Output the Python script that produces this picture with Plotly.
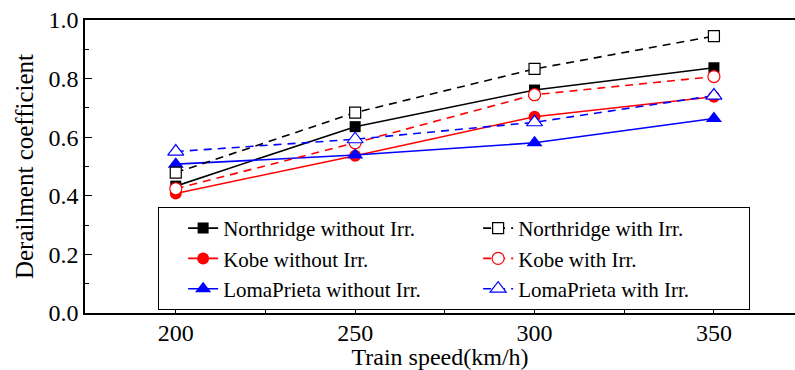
import plotly.graph_objects as go

speeds = [200, 250, 300, 350]
northridge_without = [0.433, 0.636, 0.761, 0.837]
northridge_with = [0.479, 0.684, 0.833, 0.945]
kobe_without = [0.408, 0.537, 0.670, 0.738]
kobe_with = [0.424, 0.581, 0.745, 0.807]
loma_without = [0.508, 0.539, 0.581, 0.664]
loma_with = [0.551, 0.593, 0.651, 0.742]

FONT = "Liberation Serif, Times New Roman, serif"
FS = 24
LFS = 21

fig = go.Figure()

series = [
    # name, data, color, symbol, dashed, legend rank
    ("Northridge without Irr.", northridge_without, "black", "square", False, 1),
    ("Kobe without Irr.", kobe_without, "red", "circle", False, 3),
    ("LomaPrieta without Irr.", loma_without, "blue", "triangle-up", False, 5),
    ("Northridge with Irr.", northridge_with, "black", "square", True, 2),
    ("Kobe with Irr.", kobe_with, "red", "circle", True, 4),
    ("LomaPrieta with Irr.", loma_with, "blue", "triangle-up", True, 6),
]
sizes = {"square": 11, "circle": 12, "triangle-up": 14}
for name, vals, color, sym, dashed, rank in series:
    fig.add_trace(go.Scatter(
        x=speeds, y=vals, name=name, mode="lines+markers",
        legendrank=rank,
        line=dict(color=color, width=1.6, dash="8px,6px" if dashed else "solid"),
        marker=dict(symbol=sym, size=sizes[sym],
                    color="white" if dashed else color,
                    line=dict(color=color, width=1.2 if dashed else 0)),
    ))

fig.update_layout(
    width=795, height=370,
    margin=dict(l=85, r=0, t=20, b=57),
    paper_bgcolor="white", plot_bgcolor="white",
    font=dict(family=FONT, size=FS, color="black"),
    showlegend=True,
    legend=dict(
        orientation="h", x=0.103, y=0.362, xanchor="left", yanchor="top",
        entrywidth=226, entrywidthmode="pixels", indentation=24,
        bordercolor="black", borderwidth=1, bgcolor="white",
        font=dict(family=FONT, size=LFS, color="black"),
        traceorder="normal",
    ),
    xaxis=dict(
        range=[174.7, 372.6], tickvals=[200, 250, 300, 350],
        ticks="inside", ticklen=7, tickwidth=1.2, tickcolor="black",
        minor=dict(tickvals=[225, 275, 325], ticks="inside", ticklen=4, tickwidth=1.2, tickcolor="black"),
        showline=True, linecolor="black", linewidth=1.6, mirror=True,
        showgrid=False, zeroline=False, automargin=False,
        ticklabelstandoff=-3,
        title=dict(text="Train speed(km/h)", font=dict(family=FONT, size=FS), standoff=2),
        tickfont=dict(family=FONT, size=FS),
    ),
    yaxis=dict(
        range=[0, 1.0], tickvals=[0.0, 0.2, 0.4, 0.6, 0.8, 1.0],
        ticktext=["0.0", "0.2", "0.4", "0.6", "0.8", "1.0"],
        ticks="inside", ticklen=7, tickwidth=1.2, tickcolor="black",
        minor=dict(tickvals=[0.1, 0.3, 0.5, 0.7, 0.9], ticks="inside", ticklen=4, tickwidth=1.2, tickcolor="black"),
        showline=True, linecolor="black", linewidth=1.6, mirror=False,
        showgrid=False, zeroline=False, automargin=False,
        title=dict(text="Derailment coefficient", font=dict(family=FONT, size=25), standoff=8),
        tickfont=dict(family=FONT, size=FS),
    ),
)

fig.write_html("out.html")
